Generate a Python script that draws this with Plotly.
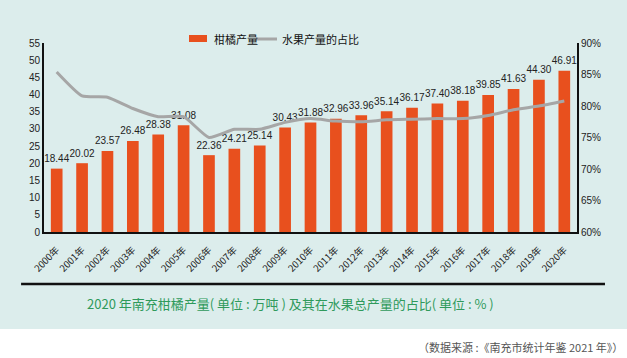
import plotly.graph_objects as go

years = [f"{y}年" for y in range(2000, 2021)]
citrus_output = [18.44, 20.02, 23.57, 26.48, 28.38, 31.08, 22.36, 24.21, 25.14, 30.43,
                 31.88, 32.96, 33.96, 35.14, 36.17, 37.40, 38.18, 39.85, 41.63, 44.30, 46.91]
fruit_share = [0.854, 0.816, 0.814, 0.796, 0.783, 0.783, 0.750, 0.763, 0.763, 0.774,
               0.780, 0.776, 0.775, 0.778, 0.779, 0.780, 0.780, 0.785, 0.794, 0.800, 0.808]
left_ticks = list(range(0, 56, 5))
right_ticks = [0.60, 0.65, 0.70, 0.75, 0.80, 0.85, 0.90]

BG = "#dcedec"
ORANGE = "#e8501e"
GREY = "#a6a6a6"
CJK = "Noto Sans CJK SC"

fig = go.Figure()
fig.add_trace(go.Bar(
    x=years, y=citrus_output, name="柑橘产量",
    marker=dict(color=ORANGE, line=dict(width=0)),
))
fig.add_trace(go.Scatter(
    x=years, y=fruit_share, name="水果产量的占比", yaxis="y2", mode="lines",
    line=dict(color=GREY, width=3, shape="spline", smoothing=0.5),
))
# value labels above bars (invisible marker pushes text up a little)
fig.add_trace(go.Scatter(
    x=years, y=citrus_output, mode="markers+text", showlegend=False,
    marker=dict(size=5, opacity=0),
    text=[f"{v:.2f}" for v in citrus_output], textposition="top center",
    textfont=dict(family="Liberation Sans", size=10, color="#222222"),
    cliponaxis=False, hoverinfo="skip",
))

fig.update_layout(
    width=627, height=358,
    margin=dict(l=44, r=50, t=43, b=126, autoexpand=False),
    paper_bgcolor=BG, plot_bgcolor=BG,
    bargap=0.54,
    showlegend=False,
    xaxis=dict(type="category", range=[-0.5, len(years) - 0.5], tickangle=-45,
               showline=True, linecolor="#111111", linewidth=1.5,
               ticks="outside", ticklen=7, tickcolor=BG, showgrid=False,
               tickfont=dict(family=CJK, size=9.5, color="#222222")),
    yaxis=dict(range=[0, 55], tickvals=left_ticks, showline=True, linecolor="#111111", linewidth=2,
               ticks="", showgrid=False, zeroline=False,
               tickfont=dict(family="Liberation Sans", size=10, color="#222222")),
    yaxis2=dict(range=[0.6, 0.9], tickvals=right_ticks, tickformat=".0%", overlaying="y", side="right",
                showline=True, linecolor="#111111", linewidth=2, ticks="", showgrid=False, zeroline=False,
                tickfont=dict(family="Liberation Sans", size=10, color="#222222")),
    shapes=[
        dict(type="rect", xref="paper", yref="paper", x0=-0.2, x1=1.2, y0=-0.8, y1=-0.513,
             fillcolor="white", line=dict(width=0), layer="below"),
        dict(type="line", xref="paper", yref="paper", x0=-0.043, x1=1.0525, y0=-0.275, y1=-0.275,
             line=dict(color="#111111", width=2.5)),
        # legend keys
        dict(type="rect", xref="paper", yref="paper", x0=0.272, x1=0.3058, y0=1.0053, y1=1.0423,
             fillcolor=ORANGE, line=dict(width=0)),
        dict(type="line", xref="paper", yref="paper", x0=0.3977, x1=0.4371, y0=1.0212, y1=1.0212,
             line=dict(color=GREY, width=3)),
    ],
    annotations=[
        dict(text="柑橘产量", xref="paper", yref="paper", x=0.3152, y=1.0212,
             xanchor="left", yanchor="middle", showarrow=False,
             font=dict(family=CJK, size=11, color="#111111")),
        dict(text="水果产量的占比", xref="paper", yref="paper", x=0.4428, y=1.0212,
             xanchor="left", yanchor="middle", showarrow=False,
             font=dict(family=CJK, size=11, color="#111111")),
        dict(text="2020 年南充柑橘产量( 单位 : 万吨 ) 及其在水果总产量的占比( 单位 : % )",
             xref="paper", yref="paper", x=0.463, y=-0.376, xanchor="center", yanchor="middle",
             showarrow=False, font=dict(family=CJK, size=13, color="#2f9a5b")),
        dict(text="（数据来源 :《南充市统计年鉴 2021 年》）",
             xref="paper", yref="paper", x=1.09, y=-0.608, xanchor="right", yanchor="middle",
             showarrow=False, font=dict(family=CJK, size=11, color="#555555")),
    ],
)

fig.write_html("out.html", config={"displayModeBar": False},
               post_script="document.body.style.margin='0';document.body.style.overflow='hidden';")
